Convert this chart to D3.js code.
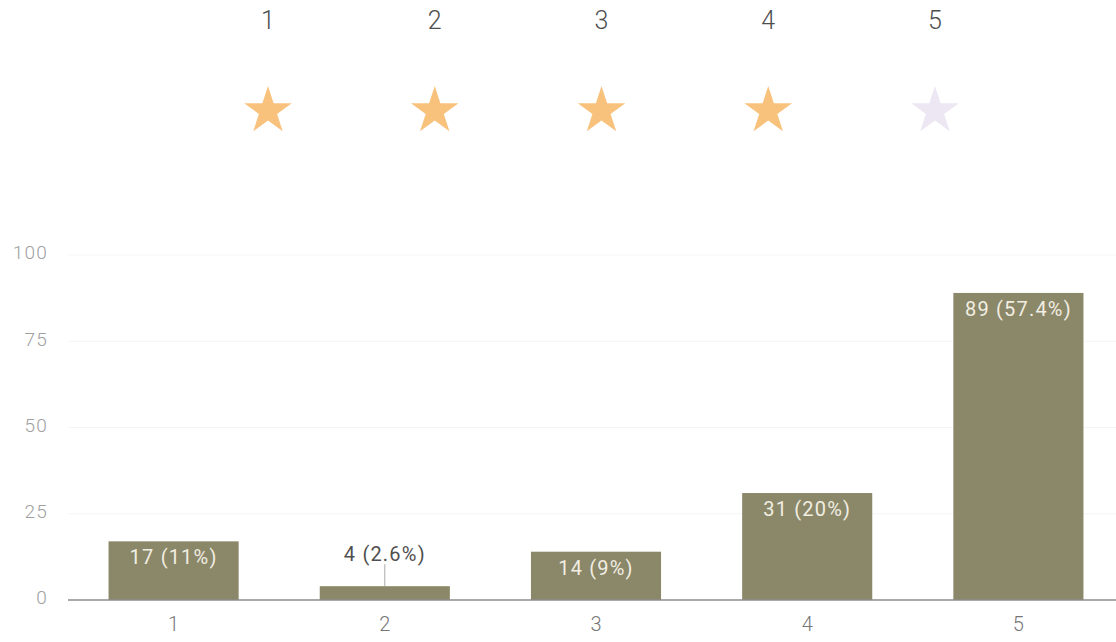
<!DOCTYPE html>
<html><head><meta charset="utf-8">
<script src="https://cdn.jsdelivr.net/npm/d3@7"></script>
<style>body{margin:0;background:#fff}svg{display:block}</style>
</head><body>
<svg id="c" width="1116" height="642"></svg>
<script>
const categories = ["1","2","3","4","5"];
const counts = [17, 4, 14, 31, 89];
const labels = ["17 (11%)","4 (2.6%)","14 (9%)","31 (20%)","89 (57.4%)"];
const yTicks = [0,25,50,75,100];
const starLabels = ["1","2","3","4","5"];
const starFilled = [true,true,true,true,false];

const svg = d3.select("#c");
const font = "Roboto, 'Liberation Sans', sans-serif";

// header stars
const sx = d3.scalePoint().domain(starLabels).range([268, 935]);
svg.append("g").selectAll("text").data(starLabels).join("text")
  .attr("x", d => sx(d)).attr("y", 29).attr("text-anchor","middle")
  .attr("font-family", font).attr("font-size", 25).attr("font-weight", 300)
  .attr("fill", "#4e4e4e").text(d => d);
const r = 25;
svg.append("g").selectAll("path").data(starLabels).join("path")
  .attr("transform", d => `translate(${sx(d)},111)`)
  .attr("d", d3.symbol(d3.symbolStar, r*r/0.8908130915292852))
  .attr("fill", (d,i) => starFilled[i] ? "#f8c27c" : "#ece7f3");

// bar chart
const x = d3.scaleBand().domain(categories).range([68, 1124]).paddingInner(0.384).paddingOuter(0.192);
const y = d3.scaleLinear().domain([0,100]).range([600, 255]);

svg.append("g").selectAll("line").data(yTicks.slice(1)).join("line")
  .attr("x1", 68).attr("x2", 1116).attr("y1", d => y(d)).attr("y2", d => y(d))
  .attr("stroke", "#f5f5f5").attr("stroke-width", 1);

const yAxis = svg.append("g").attr("transform","translate(68,0)")
  .call(d3.axisLeft(y).tickValues(yTicks).tickSize(0).tickPadding(20));
yAxis.select(".domain").remove();
yAxis.selectAll("text").attr("font-family", font).attr("font-size", 19).attr("font-weight", 300)
  .attr("letter-spacing", 1.2).attr("dy", "0.2em").attr("fill", "#a0a0a0");

svg.append("g").selectAll("rect").data(counts).join("rect")
  .attr("x", (d,i) => x(categories[i])).attr("width", x.bandwidth())
  .attr("y", d => y(d)).attr("height", d => y(0) - y(d))
  .attr("fill", "#8b8769");

const xAxis = svg.append("g").attr("transform","translate(0,600)")
  .call(d3.axisBottom(x).tickSize(0).tickPadding(17));
xAxis.select(".domain").attr("d","M68,0H1116").attr("stroke","#8c8c8c").attr("stroke-width",1.5);
xAxis.selectAll("text").attr("font-family", font).attr("font-size", 20).attr("font-weight", 300)
  .attr("fill", "#777");

// value labels
const g = svg.append("g");
counts.forEach((v,i) => {
  const cx = x(categories[i]) + x.bandwidth()/2;
  const top = y(v);
  if (top + 30 < y(0)) {
    g.append("text").attr("x", cx).attr("y", top + 23).attr("text-anchor","middle")
      .attr("font-family", font).attr("font-size", 20).attr("letter-spacing", 1.2)
      .attr("fill", "#f1eee2").text(labels[i]);
  } else {
    g.append("line").attr("x1", cx).attr("x2", cx).attr("y1", top - 22).attr("y2", top)
      .attr("stroke", "#aaa").attr("stroke-width", 1);
    g.append("text").attr("x", cx).attr("y", top - 25).attr("text-anchor","middle")
      .attr("font-family", font).attr("font-size", 20).attr("letter-spacing", 1.2)
      .attr("fill", "#505050").text(labels[i]);
  }
});
</script>
</body></html>
